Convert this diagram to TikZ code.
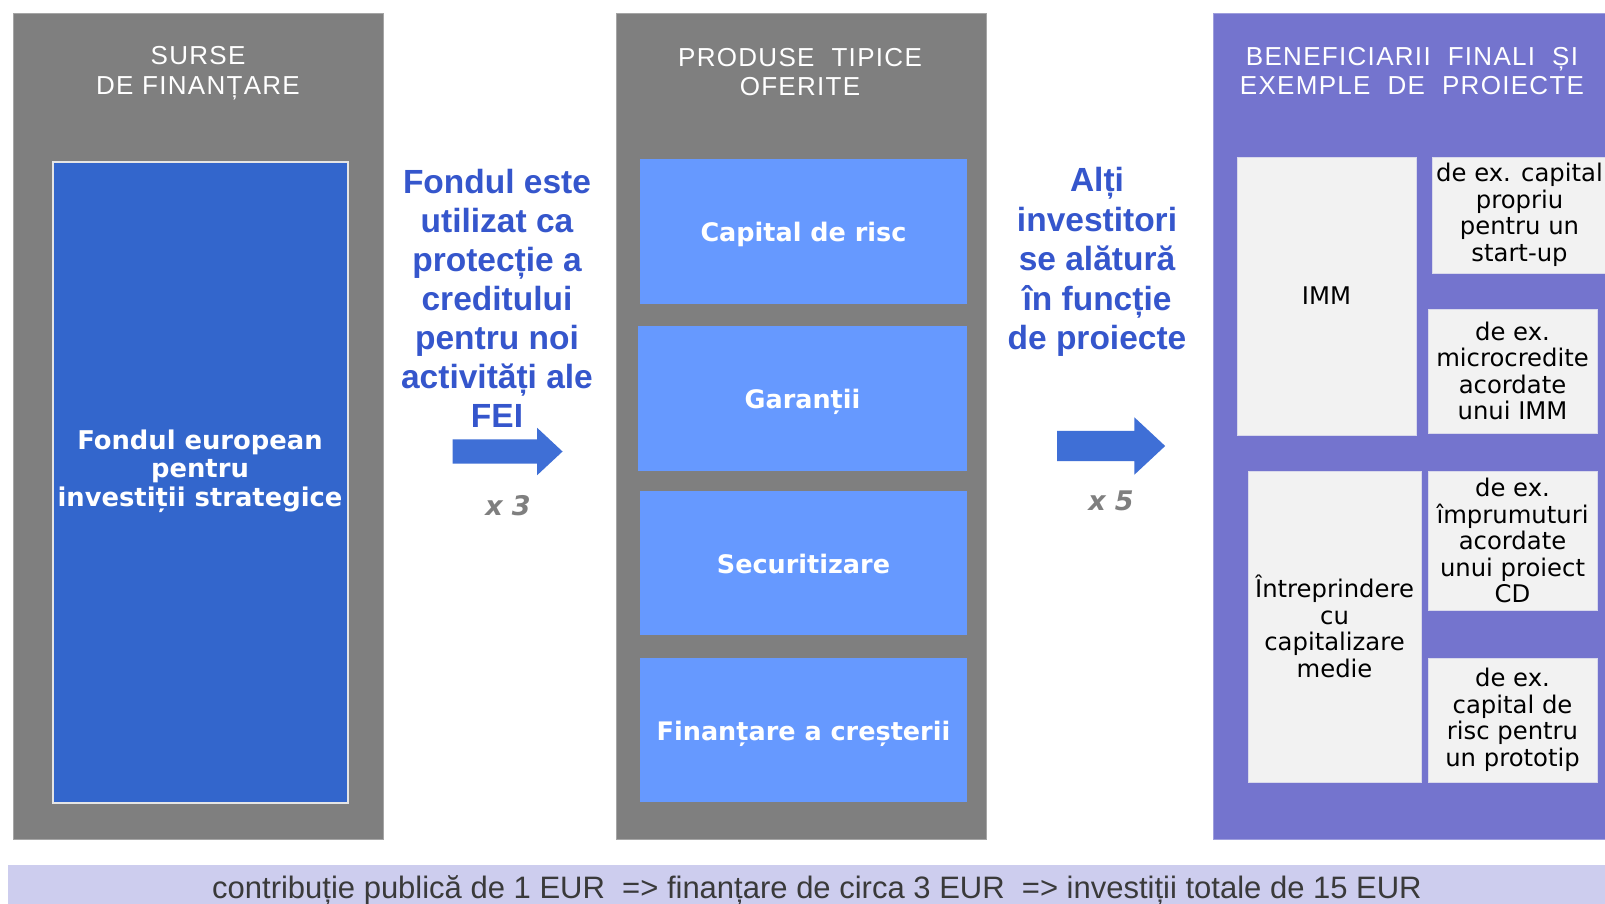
\documentclass[tikz,border=0pt]{standalone}
\usepackage{fontspec}
\setmainfont{DejaVu Sans}
\newfontfamily\arialf{Liberation Sans}
\newfontfamily\hdrf[LetterSpace=5]{Liberation Sans}
\usetikzlibrary{shapes.arrows}
\definecolor{panelgray}{HTML}{7F7F7F}
\definecolor{fundblue}{HTML}{3366CC}
\definecolor{prodblue}{HTML}{6699FF}
\definecolor{benpurple}{HTML}{7474CE}
\definecolor{lightbox}{HTML}{F2F2F2}
\definecolor{barlav}{HTML}{CDCDEE}
\definecolor{textblue}{HTML}{3556CC}
\definecolor{arrowblue}{HTML}{3F6FD6}
\definecolor{multgray}{HTML}{7F7F7F}
\definecolor{bartext}{HTML}{3A3A3A}
\tikzset{
  area/.style={rectangle, inner sep=0pt, outer sep=0pt, anchor=north west},
  hdr/.style={text=white, align=center, inner sep=0pt, font=\hdrf\fontsize{26}{29.5}\selectfont},
  prod/.style={area, fill=prodblue, text=white, text height=20pt, text depth=0pt, font=\bfseries\fontsize{25.5}{28}\selectfont},
  ex/.style={area, fill=lightbox, draw=lightbox!80!benpurple, line width=0.8pt, text=black, align=center, font=\fontsize{24.3}{26.5}\selectfont},
  bluetxt/.style={text=textblue, align=center, inner sep=0pt, font=\arialf\bfseries\fontsize{33.5}{39}\selectfont},
  mult/.style={text=multgray, inner sep=0pt, font=\bfseries\itshape\fontsize{27}{30}\selectfont},
  blockarrow/.style={single arrow, fill=arrowblue, inner xsep=0pt, single arrow tip angle=86}
}
\begin{document}
\begin{tikzpicture}[x=1pt,y=-1pt]
\useasboundingbox[fill=white] (0,0) rectangle (1605,903);
% panels
\node[area, fill=panelgray, draw=panelgray!70!white, line width=0.8pt, minimum width=370pt, minimum height=826pt] (src) at (13,13) {};
\node[area, fill=panelgray, draw=panelgray!70!white, line width=0.8pt, minimum width=370pt, minimum height=826pt] (prodpanel) at (616,13) {};
\node[area, fill=benpurple, draw=benpurple!70!white, line width=0.8pt, minimum width=400pt, minimum height=826pt] (benpanel) at (1213,13) {};
% headers
\node[hdr] (hsrc) at (198,73) {SURSE\\DE FINANȚARE};
\node[hdr] (hprod) at (800,72) {PRODUSE \ TIPICE\\OFERITE};
\node[hdr] (hben) at (1412,71) {BENEFICIARII \ FINALI \ ȘI\\EXEMPLE \ DE \ PROIECTE};
% fund
\node[area, fill=fundblue, draw=white!80!gray, line width=1.5pt, minimum width=295pt, minimum height=641pt] (fund) at (53,162) {};
\node[text=white, align=center, inner sep=0pt, font=\bfseries\fontsize{25.8}{28.5}\selectfont] (fundlabel) at (200,471) {Fondul european\\pentru\\investiții strategice};
% products
\node[prod, minimum width=327pt, minimum height=145pt] (p1) at (640,159) {Capital de risc};
\node[prod, minimum width=329pt, minimum height=145pt] (p2) at (638,326) {Garanții};
\node[prod, minimum width=327pt, minimum height=144pt] (p3) at (640,491) {Securitizare};
\node[prod, minimum width=327pt, minimum height=144pt] (p4) at (640,658) {Finanțare a creșterii};
% middle texts
\node[bluetxt] (t1) at (497,298) {Fondul este\\utilizat ca\\protecție a\\creditului\\pentru noi\\activități ale\\FEI};
\node[blockarrow, inner ysep=12pt, minimum height=110pt, single arrow head extend=11.5pt] (a1) at (501,451.5) {};
\node[mult] (m1) at (508,506) {x\hspace{9pt}3};
\node[bluetxt, font=\arialf\bfseries\fontsize{33.5}{39.5}\selectfont] (t2) at (1097,262) {Alți\\investitori\\se alătură\\în funcție\\de proiecte};
\node[blockarrow, inner ysep=15pt, minimum height=108pt, single arrow head extend=13.5pt] (a2) at (1103,446) {};
\node[mult] (m2) at (1111,501) {x\hspace{9pt}5};
% beneficiaries
\node[ex, minimum width=179pt, minimum height=278pt] (imm) at (1237,157) {IMM};
\node[ex, minimum width=175pt, minimum height=116pt] (e1) at (1432,157) {de ex. capital\\propriu\\pentru un\\start-up};
\node[ex, minimum width=169pt, minimum height=124pt] (e2) at (1428,309) {de ex.\\microcredite\\acordate\\unui IMM};
\node[ex, minimum width=173pt, minimum height=311pt] (mid) at (1248,471) {Întreprindere\\cu\\capitalizare\\medie};
\node[ex, minimum width=169pt, minimum height=139pt] (e3) at (1428,471) {de ex.\\împrumuturi\\acordate\\unui proiect\\CD};
\node[ex, minimum width=169pt, minimum height=124pt] (e4) at (1428,658) {de ex.\\capital de\\risc pentru\\un prototip};
% bottom bar
\node[area, fill=barlav, minimum width=1618pt, minimum height=44pt, text height=22pt, text depth=0pt, text=bartext, font=\arialf\fontsize{31}{33}\selectfont] (bar) at (8,865) {contribuție publică de 1 EUR \ => finanțare de circa 3 EUR \ => investiții totale de 15 EUR};
\end{tikzpicture}
\end{document}
